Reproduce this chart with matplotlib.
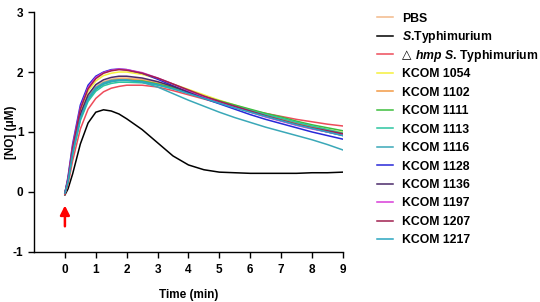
import numpy as np
import matplotlib
matplotlib.use('Agg')
import matplotlib.pyplot as plt

plt.rcParams['font.family'] = ['Liberation Sans', 'DejaVu Sans']
plt.rcParams['font.weight'] = 'bold'
plt.rcParams['axes.unicode_minus'] = False
plt.rcParams['mathtext.fontset'] = 'custom'
plt.rcParams['mathtext.rm'] = 'Liberation Sans:bold'
plt.rcParams['mathtext.it'] = 'Liberation Sans:italic:bold'
plt.rcParams['mathtext.bf'] = 'Liberation Sans:bold'

# time points (min)
t = [0, 0.1, 0.25, 0.5, 0.75, 1, 1.25, 1.5, 1.75, 2, 2.5, 3, 3.5, 4, 4.5, 5, 5.5, 6, 6.5, 7, 7.5, 8, 8.5, 9]

labels = ['PBS', 'S.Typhimurium', '\u25b3 hmp S. Typhimurium',
          'KCOM 1054', 'KCOM 1102', 'KCOM 1111', 'KCOM 1113', 'KCOM 1116',
          'KCOM 1128', 'KCOM 1136', 'KCOM 1197', 'KCOM 1207', 'KCOM 1217']
colors = ['#F2B98A', '#000000', '#EE4B5A', '#F5F03C', '#F39A45', '#3DBE3D', '#2CC5A0',
          '#3AA8B8', '#2828D8', '#4A2A6A', '#D83CD8', '#A02050', '#2AA6C0']

pbs      = [-0.02, 0.19, 0.68, 1.27, 1.59, 1.76, 1.84, 1.88, 1.90, 1.90, 1.88, 1.83, 1.76, 1.68, 1.60, 1.52, 1.44, 1.37, 1.30, 1.23, 1.16, 1.10, 1.04, 0.98]
styph    = [-0.05, 0.05, 0.30, 0.80, 1.15, 1.33, 1.37, 1.35, 1.30, 1.22, 1.04, 0.82, 0.60, 0.45, 0.37, 0.33, 0.32, 0.31, 0.31, 0.31, 0.31, 0.32, 0.32, 0.33]
hmp      = [-0.04, 0.12, 0.52, 1.05, 1.38, 1.56, 1.67, 1.73, 1.76, 1.78, 1.78, 1.75, 1.69, 1.62, 1.55, 1.48, 1.42, 1.36, 1.31, 1.26, 1.21, 1.17, 1.13, 1.10]
kcom1054 = [-0.02, 0.20, 0.72, 1.35, 1.68, 1.85, 1.94, 1.98, 2.00, 2.00, 1.96, 1.89, 1.80, 1.71, 1.62, 1.53, 1.45, 1.37, 1.29, 1.22, 1.15, 1.09, 1.04, 0.99]
kcom1102 = [-0.02, 0.18, 0.66, 1.24, 1.56, 1.73, 1.82, 1.86, 1.88, 1.88, 1.86, 1.81, 1.74, 1.66, 1.58, 1.50, 1.43, 1.36, 1.29, 1.22, 1.15, 1.09, 1.03, 0.96]
kcom1111 = [-0.02, 0.17, 0.64, 1.22, 1.54, 1.71, 1.80, 1.84, 1.86, 1.86, 1.85, 1.80, 1.74, 1.67, 1.59, 1.52, 1.45, 1.38, 1.31, 1.25, 1.18, 1.12, 1.07, 1.02]
kcom1113 = [-0.02, 0.17, 0.62, 1.19, 1.51, 1.68, 1.77, 1.81, 1.83, 1.83, 1.82, 1.78, 1.72, 1.65, 1.57, 1.50, 1.43, 1.36, 1.29, 1.23, 1.16, 1.10, 1.04, 0.98]
kcom1116 = [-0.02, 0.18, 0.66, 1.25, 1.57, 1.74, 1.82, 1.86, 1.87, 1.87, 1.83, 1.75, 1.64, 1.53, 1.43, 1.33, 1.24, 1.16, 1.08, 1.01, 0.94, 0.87, 0.79, 0.70]
kcom1128 = [-0.02, 0.25, 0.80, 1.45, 1.78, 1.93, 2.00, 2.04, 2.05, 2.04, 1.98, 1.88, 1.77, 1.66, 1.56, 1.47, 1.38, 1.29, 1.21, 1.14, 1.07, 1.00, 0.94, 0.88]
kcom1136 = [-0.02, 0.20, 0.70, 1.30, 1.62, 1.79, 1.87, 1.91, 1.93, 1.93, 1.90, 1.84, 1.76, 1.67, 1.58, 1.50, 1.42, 1.34, 1.26, 1.19, 1.12, 1.06, 1.00, 0.94]
kcom1197 = [-0.02, 0.22, 0.76, 1.40, 1.74, 1.91, 1.99, 2.03, 2.05, 2.04, 1.99, 1.90, 1.80, 1.69, 1.59, 1.50, 1.41, 1.33, 1.25, 1.18, 1.11, 1.05, 1.00, 0.95]
kcom1207 = [-0.02, 0.21, 0.74, 1.38, 1.72, 1.89, 1.98, 2.02, 2.04, 2.03, 1.98, 1.90, 1.80, 1.70, 1.60, 1.51, 1.43, 1.35, 1.27, 1.20, 1.13, 1.07, 1.02, 0.97]
kcom1217 = [-0.02, 0.18, 0.65, 1.23, 1.55, 1.72, 1.80, 1.84, 1.86, 1.86, 1.84, 1.79, 1.72, 1.64, 1.56, 1.48, 1.40, 1.33, 1.26, 1.19, 1.12, 1.06, 1.00, 0.94]

series = [pbs, styph, hmp, kcom1054, kcom1102, kcom1111, kcom1113, kcom1116,
          kcom1128, kcom1136, kcom1197, kcom1207, kcom1217]

fig = plt.figure(figsize=(5.4, 3.02), dpi=100)
ax = fig.add_axes([0.063, 0.166, 0.572, 0.794])

for y, c, lab in zip(series, colors, labels):
    ax.plot(t, y, color=c, lw=1.1, label=lab)

ax.set_xlim(-1, 9)
ax.set_ylim(-1, 3)
ax.set_xticks(range(0, 10))
ax.set_yticks(range(-1, 4))
for s in ['top', 'right']:
    ax.spines[s].set_visible(False)
for s in ['left', 'bottom']:
    ax.spines[s].set_linewidth(1.0)
ax.tick_params(direction='out', length=4, width=1.0, labelsize=8.5)
ax.tick_params(axis='x', pad=5)
ax.set_xlabel('Time (min)', fontsize=8.5, fontweight='bold', labelpad=9)
ax.set_ylabel('[NO] (\u03bcM)', fontsize=8.5, fontweight='bold')
ax.yaxis.set_label_coords(-0.055, 0.5)

# injection arrow
ax.annotate('', xy=(0, -0.18), xytext=(0, -0.62),
            arrowprops=dict(arrowstyle='-|>,head_width=0.28,head_length=0.55', color='red', lw=1.8))

fs = 8.8
leg = ax.legend(loc='upper left', bbox_to_anchor=(0.698, 0.958), bbox_transform=fig.transFigure,
                frameon=False, fontsize=fs, borderpad=0, borderaxespad=0,
                handlelength=1.3, handletextpad=0.75, labelspacing=0.53)

# redraw the two labels that mix italic and upright parts
fig.canvas.draw()
r = fig.canvas.get_renderer()
inv = fig.transFigure.inverted()
texts = leg.get_texts()

t1 = texts[1]
x, y = t1.get_transform().transform(t1.get_position())
t1.set_visible(False)
fig.text(*inv.transform((x, y)), '$\\it{S}$.Typhimurium', fontsize=fs, va='baseline')

t2 = texts[2]
x, y = t2.get_transform().transform(t2.get_position())
t2.set_visible(False)
tri = fig.text(*inv.transform((x, y)), '\u25b3', fontsize=fs, va='baseline',
               family='DejaVu Sans', fontweight='normal')
w = tri.get_window_extent(r).width
fig.text(*inv.transform((x + w + 4, y)), '$\\it{hmp\\ S}$. Typhimurium', fontsize=fs, va='baseline')

fig.savefig('out.png', dpi=100)
